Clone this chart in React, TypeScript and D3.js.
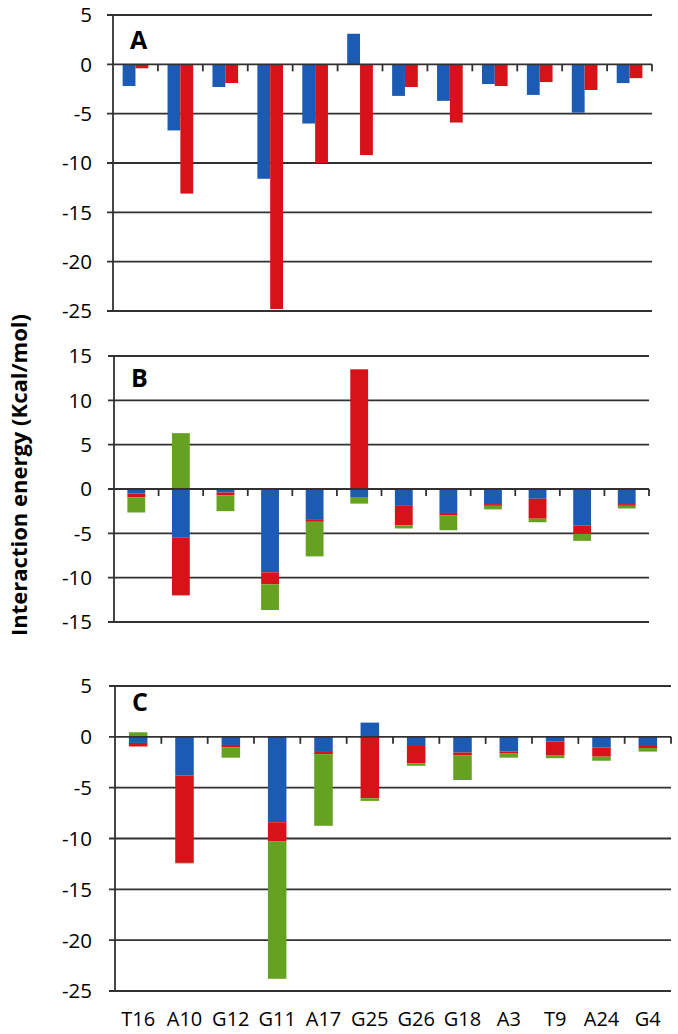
import React from 'react';
import * as d3 from 'd3';

const categories = ['T16', 'A10', 'G12', 'G11', 'A17', 'G25', 'G26', 'G18', 'A3', 'T9', 'A24', 'G4'];

// Panel A (clustered)
const aBlue = [-2.2, -6.7, -2.3, -11.6, -6.0, 3.1, -3.2, -3.7, -2.0, -3.1, -4.9, -1.9];
const aRed = [-0.4, -13.1, -1.9, -24.8, -10.0, -9.2, -2.3, -5.9, -2.2, -1.8, -2.6, -1.4];

// Panel B (stacked)
const bBlue = [-0.5, -5.5, -0.4, -9.4, -3.4, -0.9, -1.9, -2.7, -1.7, -1.1, -4.1, -1.7];
const bRed = [-0.45, -6.5, -0.3, -1.35, -0.3, 13.5, -2.2, -0.3, -0.2, -2.25, -0.95, -0.2];
const bGreen = [-1.7, 6.3, -1.8, -2.9, -3.9, -0.75, -0.35, -1.65, -0.4, -0.4, -0.8, -0.3];

// Panel C (stacked)
const cBlue = [-0.6, -3.8, -0.8, -8.4, -1.4, 1.4, -0.9, -1.55, -1.45, -0.45, -1.05, -0.9];
const cRed = [-0.35, -8.6, -0.25, -1.9, -0.3, -6.05, -1.7, -0.25, -0.2, -1.4, -0.9, -0.2];
const cGreen = [0.45, -0.05, -1.0, -13.5, -7.05, -0.25, -0.25, -2.45, -0.4, -0.25, -0.4, -0.35];

const yTicksA = [5, 0, -5, -10, -15, -20, -25];
const yTicksB = [15, 10, 5, 0, -5, -10, -15];
const yTicksC = [5, 0, -5, -10, -15, -20, -25];

const yAxisTitle = 'Interaction energy (Kcal/mol)';

const BLUE = '#1b5bb3';
const RED = '#d81219';
const GREEN = '#66a222';
const LINE = '#333031';
const FONT = '"Open Sans", "DejaVu Sans", sans-serif';

type Series = { key: string; color: string; values: number[] };

function Panel(props: {
  label: string;
  left: number;
  right: number;
  top: number;
  bottom: number;
  ticks: number[];
  series: Series[];
  stacked: boolean;
  labelBaseline: number;
  showX: boolean;
  xLabelY: number;
}) {
  const { label, left, right, top, bottom, ticks, series, stacked, labelBaseline, showX, xLabelY } = props;
  const yMax = d3.max(ticks)!;
  const yMin = d3.min(ticks)!;
  const y = d3.scaleLinear().domain([yMin, yMax]).range([bottom, top]);
  const n = categories.length;
  const step = (right - left) / n;
  const bars: JSX.Element[] = [];

  if (!stacked) {
    const p = 1.5 / 3.5;
    const x0 = d3.scaleBand<string>().domain(categories).range([left, right]).paddingInner(p).paddingOuter(p / 2);
    const x1 = d3.scaleBand<string>().domain(series.map((s) => s.key)).range([0, x0.bandwidth()]);
    categories.forEach((c, i) => {
      series.forEach((s) => {
        const v = s.values[i];
        const y1 = y(Math.max(0, v));
        const y2 = y(Math.min(0, v));
        bars.push(
          <rect key={c + s.key} x={x0(c)! + x1(s.key)!} y={y1} width={x1.bandwidth()} height={y2 - y1} fill={s.color} />
        );
      });
    });
  } else {
    const p = 1.5 / 2.5;
    const x = d3.scaleBand<string>().domain(categories).range([left, right]).paddingInner(p).paddingOuter(p / 2);
    const rows = categories.map((c, i) => {
      const r: any = { cat: c };
      series.forEach((s) => (r[s.key] = s.values[i]));
      return r;
    });
    const stack = d3
      .stack<any>()
      .keys(series.map((s) => s.key))
      .offset(d3.stackOffsetDiverging);
    const layers = stack(rows);
    layers.forEach((layer, li) => {
      layer.forEach((d, i) => {
        const ya = y(Math.max(d[0], d[1]));
        const yb = y(Math.min(d[0], d[1]));
        bars.push(
          <rect key={categories[i] + li} x={x(categories[i])!} y={ya} width={x.bandwidth()} height={yb - ya} fill={series[li].color} />
        );
      });
    });
  }

  return (
    <g>
      {ticks.map((t) =>
        t === 0 ? null : (
          <line key={'g' + t} x1={left - 6} x2={right} y1={y(t)} y2={y(t)} stroke={LINE} strokeWidth={1.8} />
        )
      )}
      {ticks.map((t) => (
        <text
          key={'t' + t}
          x={92}
          y={y(t)}
          dy="0.36em"
          textAnchor="end"
          fontFamily={FONT}
          fontSize={20.5}
          fill="#000"
        >
          {t}
        </text>
      ))}
      {bars}
      <line x1={left} x2={left} y1={top} y2={bottom} stroke={LINE} strokeWidth={1.8} />
      <line x1={left - 6} x2={right} y1={y(0)} y2={y(0)} stroke={LINE} strokeWidth={1.8} />
      {d3.range(1, n + 1).map((i) => (
        <line key={'xt' + i} x1={left + i * step} x2={left + i * step} y1={y(0)} y2={y(0) + 7} stroke={LINE} strokeWidth={1.8} />
      ))}
      <text x={left + 17} y={labelBaseline} fontFamily={FONT} fontWeight="bold" fontSize={25} fill="#000">
        {label}
      </text>
      {showX &&
        categories.map((c, i) => (
          <text key={'xl' + c} x={left + (i + 0.5) * step} y={xLabelY} textAnchor="middle" fontFamily={FONT} fontSize={20} fill="#000">
            {c}
          </text>
        ))}
    </g>
  );
}

export default function App() {
  return (
    <svg
      width={678}
      height={1034}
      viewBox="0 0 678 1034"
      style={{ position: 'absolute', left: 0, top: 0, background: '#fff' }}
    >
      <rect x={0} y={0} width={678} height={1034} fill="#fff" />
      <Panel
        label="A"
        left={113}
        right={652}
        top={15}
        bottom={311}
        ticks={yTicksA}
        series={[
          { key: 'blue', color: BLUE, values: aBlue },
          { key: 'red', color: RED, values: aRed },
        ]}
        stacked={false}
        labelBaseline={49}
        showX={false}
        xLabelY={0}
      />
      <Panel
        label="B"
        left={114}
        right={649}
        top={356}
        bottom={622}
        ticks={yTicksB}
        series={[
          { key: 'blue', color: BLUE, values: bBlue },
          { key: 'red', color: RED, values: bRed },
          { key: 'green', color: GREEN, values: bGreen },
        ]}
        stacked={true}
        labelBaseline={387}
        showX={false}
        xLabelY={0}
      />
      <Panel
        label="C"
        left={115}
        right={671}
        top={686}
        bottom={991}
        ticks={yTicksC}
        series={[
          { key: 'blue', color: BLUE, values: cBlue },
          { key: 'red', color: RED, values: cRed },
          { key: 'green', color: GREEN, values: cGreen },
        ]}
        stacked={true}
        labelBaseline={711}
        showX={true}
        xLabelY={1026}
      />
      <text
        transform="translate(27,475) rotate(-90)"
        textAnchor="middle"
        fontFamily={FONT}
        fontWeight="bold"
        fontSize={22}
        fill="#000"
      >
        {yAxisTitle}
      </text>
    </svg>
  );
}
